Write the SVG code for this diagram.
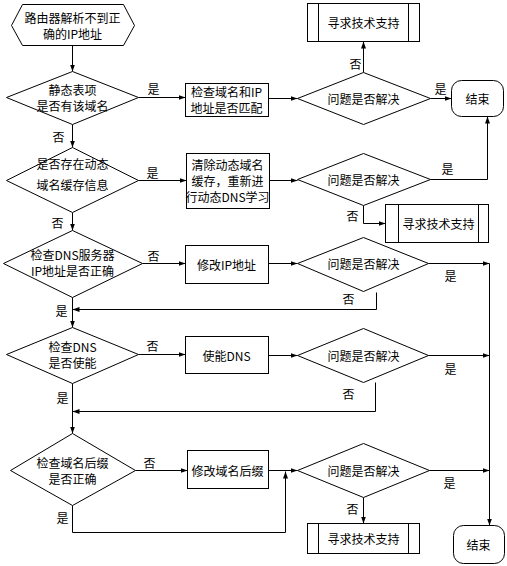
<svg xmlns="http://www.w3.org/2000/svg" width="507" height="566" viewBox="0 0 507 566">
<style>
.s{fill:#fff;stroke:#000;stroke-width:1}
.c{fill:none;stroke:#000;stroke-width:1}
text{font-family:"Noto Sans CJK SC","Noto Sans",sans-serif;font-size:12px;fill:#000;text-anchor:middle;dominant-baseline:central}
</style>
<defs>
<marker id="a" markerUnits="userSpaceOnUse" markerWidth="8" markerHeight="6" refX="7" refY="3" orient="auto">
<path d="M0,0.5 L7,3 L0,5.5 z" fill="#000"/>
</marker>
</defs>
<rect width="507" height="566" fill="#fff"/>
<g transform="translate(0.5,0.5)">
<g id="connectors">
<path class="c" d="M72,45 V71" marker-end="url(#a)"/>
<path class="c" d="M138,97 H185" marker-end="url(#a)"/>
<path class="c" d="M72,124 V147" marker-end="url(#a)"/>
<path class="c" d="M268,98 H297" marker-end="url(#a)"/>
<path class="c" d="M363,72 V41" marker-end="url(#a)"/>
<path class="c" d="M430,98 H451" marker-end="url(#a)"/>
<path class="c" d="M138,180 H186" marker-end="url(#a)"/>
<path class="c" d="M269,180 H297" marker-end="url(#a)"/>
<path class="c" d="M430,179 H487 V116" marker-end="url(#a)"/>
<path class="c" d="M363,205 V223 H385" marker-end="url(#a)"/>
<path class="c" d="M72,212 V230" marker-end="url(#a)"/>
<path class="c" d="M142,263 H185" marker-end="url(#a)"/>
<path class="c" d="M268,263 H297" marker-end="url(#a)"/>
<path class="c" d="M428,263 H489" marker-end="url(#a)"/>
<path class="c" d="M376,292 V309 H72" marker-end="url(#a)"/>
<path class="c" d="M72,297 V327" marker-end="url(#a)"/>
<path class="c" d="M138,354 H185" marker-end="url(#a)"/>
<path class="c" d="M268,355 H297" marker-end="url(#a)"/>
<path class="c" d="M428,355 H489" marker-end="url(#a)"/>
<path class="c" d="M375,382 V411 H72" marker-end="url(#a)"/>
<path class="c" d="M72,383 V433" marker-end="url(#a)"/>
<path class="c" d="M135,470 H187" marker-end="url(#a)"/>
<path class="c" d="M268,470 H297" marker-end="url(#a)"/>
<path class="c" d="M72,505 V532 H285 V471" marker-end="url(#a)"/>
<path class="c" d="M429,470 H489" marker-end="url(#a)"/>
<path class="c" d="M489,263 V525" marker-end="url(#a)"/>
<path class="c" d="M363,497 V523" marker-end="url(#a)"/>
<text x="153" y="88">是</text>
<text x="58" y="136">否</text>
<text x="355" y="63">否</text>
<text x="440" y="88">是</text>
<text x="152" y="172">是</text>
<text x="447" y="168">是</text>
<text x="352" y="215">否</text>
<text x="57" y="222">否</text>
<text x="153" y="255">否</text>
<text x="450" y="275">是</text>
<text x="348" y="298">否</text>
<text x="61" y="310">是</text>
<text x="152" y="345">否</text>
<text x="450" y="368">是</text>
<text x="348" y="393">否</text>
<text x="62" y="397">是</text>
<text x="149" y="462">否</text>
<text x="449" y="482">是</text>
<text x="62" y="517">是</text>
<text x="352" y="508">否</text>
</g>
<g id="start">
<polygon class="s" points="22,4 123,4 134,25 123,45 22,45 11,25"/>
<text x="72" y="17">路由器解析不到正</text>
<text x="72" y="33">确的IP地址</text>
</g>
<g id="d1">
<polygon class="s" points="72,71 138,97 72,124 6,97"/>
<text x="72" y="89">静态表项</text>
<text x="72" y="105">是否有该域名</text>
</g>
<g id="b1">
<rect class="s" x="185" y="83" width="83" height="33"/>
<text x="226" y="91">检查域名和IP</text>
<text x="226" y="107">地址是否匹配</text>
</g>
<g id="q1">
<polygon class="s" points="363,72 430,98 363,124 297,98"/>
<text x="363" y="98">问题是否解决</text>
</g>
<g id="support1">
<rect class="s" x="307" y="3" width="112" height="38"/>
<path class="c" d="M318,3 V41 M408,3 V41"/>
<text x="363" y="22">寻求技术支持</text>
</g>
<g id="end1">
<rect class="s" x="451" y="80" width="52" height="36" rx="10"/>
<text x="477" y="98">结束</text>
</g>
<g id="d2">
<polygon class="s" points="72,147 138,180 72,212 6,180"/>
<text x="72" y="163">是否存在动态</text>
<text x="72" y="184">域名缓存信息</text>
</g>
<g id="b2">
<rect class="s" x="186" y="153" width="83" height="55"/>
<text x="227" y="164">清除动态域名</text>
<text x="227" y="180">缓存，重新进</text>
<text x="227" y="196">行动态DNS学习</text>
</g>
<g id="q2">
<polygon class="s" points="363,153 430,179 363,205 297,179"/>
<text x="363" y="179">问题是否解决</text>
</g>
<g id="support2">
<rect class="s" x="385" y="204" width="103" height="38"/>
<path class="c" d="M398,204 V242 M478,204 V242"/>
<text x="438" y="223">寻求技术支持</text>
</g>
<g id="d3">
<polygon class="s" points="72,230 142,263 72,297 3,263"/>
<text x="72" y="254">检查DNS服务器</text>
<text x="72" y="270">IP地址是否正确</text>
</g>
<g id="b3">
<rect class="s" x="185" y="245" width="83" height="38"/>
<text x="226" y="264">修改IP地址</text>
</g>
<g id="q3">
<polygon class="s" points="363,237 428,263 363,291 297,263"/>
<text x="363" y="263">问题是否解决</text>
</g>
<g id="d4">
<polygon class="s" points="72,327 138,354 72,383 6,354"/>
<text x="72" y="346">检查DNS</text>
<text x="72" y="362">是否使能</text>
</g>
<g id="b4">
<rect class="s" x="185" y="336" width="83" height="37"/>
<text x="226" y="355">使能DNS</text>
</g>
<g id="q4">
<polygon class="s" points="363,328 428,355 363,382 297,355"/>
<text x="363" y="355">问题是否解决</text>
</g>
<g id="d5">
<polygon class="s" points="72,433 135,470 72,505 10,470"/>
<text x="72" y="462">检查域名后缀</text>
<text x="72" y="478">是否正确</text>
</g>
<g id="b5">
<rect class="s" x="187" y="450" width="81" height="38"/>
<text x="227" y="470">修改域名后缀</text>
</g>
<g id="q5">
<polygon class="s" points="363,443 429,470 363,497 297,470"/>
<text x="363" y="470">问题是否解决</text>
</g>
<g id="support3">
<rect class="s" x="307" y="523" width="112" height="30"/>
<path class="c" d="M318,523 V553 M408,523 V553"/>
<text x="363" y="538">寻求技术支持</text>
</g>
<g id="end2">
<rect class="s" x="453" y="525" width="51" height="38" rx="10"/>
<text x="478" y="544">结束</text>
</g>
</g>
</svg>
